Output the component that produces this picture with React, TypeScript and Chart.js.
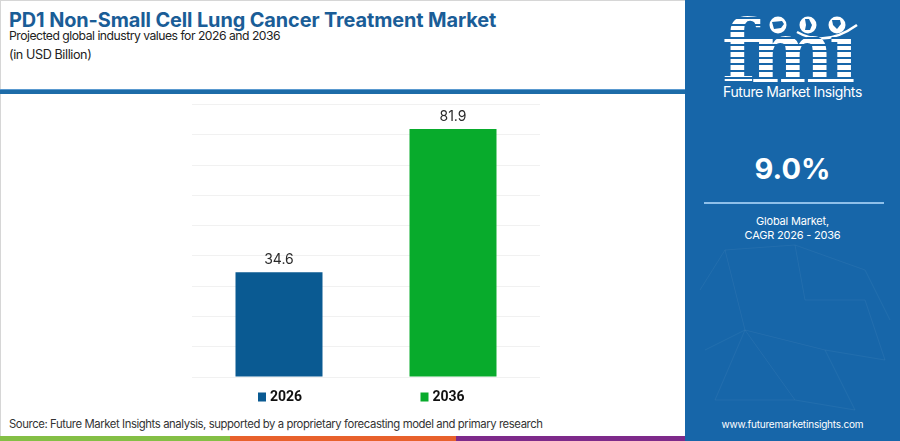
import React, { useEffect, useRef } from "react";
import { Chart, registerables } from "chart.js";

Chart.register(...registerables);

const categories = ["2026", "2036"];
const values2026 = [34.6, null];
const values2036 = [null, 81.9];
const seriesNames = ["2026", "2036"];
const seriesColors = ["#0a5a92", "#08ab2c"];
const yMax = 90;
const yStep = 10;

const FONT = "Inter, 'Open Sans', sans-serif";

const valueLabels = {
  id: "valueLabels",
  afterDatasetsDraw(chart: any) {
    const ctx = chart.ctx;
    ctx.save();
    ctx.font = `400 14px ${FONT}`;
    ctx.fillStyle = "#2a2a2a";
    ctx.textAlign = "center";
    ctx.textBaseline = "middle";
    chart.data.datasets.forEach((ds: any, di: number) => {
      const meta = chart.getDatasetMeta(di);
      meta.data.forEach((el: any, i: number) => {
        const v = ds.data[i];
        if (v == null) return;
        ctx.fillText(String(v), el.x, el.y - 12);
      });
    });
    ctx.restore();
  },
};

const customLegend = {
  id: "customLegend",
  afterDraw(chart: any) {
    const ctx = chart.ctx;
    const a = chart.chartArea;
    const cx = (a.left + a.right) / 2;
    const y = a.bottom + 20;
    const offs = [-108, 54.5];
    ctx.save();
    ctx.font = `700 14px Roboto, ${FONT}`;
    ctx.textBaseline = "middle";
    ctx.textAlign = "left";
    chart.data.datasets.forEach((ds: any, i: number) => {
      const x = cx + offs[i];
      ctx.fillStyle = ds.backgroundColor;
      ctx.fillRect(x, y - 4.5, 8, 9);
      ctx.fillStyle = "#111";
      ctx.fillText(ds.label, x + 12, y);
    });
    ctx.restore();
  },
};

function BarChart() {
  const ref = useRef<HTMLCanvasElement | null>(null);
  useEffect(() => {
    if (!ref.current) return;
    const chart = new Chart(ref.current, {
      type: "bar",
      data: {
        labels: categories,
        datasets: [
          { label: seriesNames[0], data: values2026, backgroundColor: seriesColors[0] },
          { label: seriesNames[1], data: values2036, backgroundColor: seriesColors[1] },
        ],
      },
      options: {
        animation: false,
        responsive: false,
        maintainAspectRatio: false,
        layout: { padding: { top: 9.5, bottom: 33, left: 20, right: 7 } },
        datasets: { bar: { grouped: false, barPercentage: 0.5, categoryPercentage: 1 } } as any,
        plugins: { legend: { display: false }, tooltip: { enabled: false } },
        scales: {
          x: { display: false },
          y: {
            min: 0,
            max: yMax,
            ticks: { display: false, stepSize: yStep },
            grid: { color: "#f1f1f1", lineWidth: 1, drawTicks: false },
            border: { display: false },
          },
        },
      },
      plugins: [valueLabels, customLegend],
    });
    return () => chart.destroy();
  }, []);
  return (
    <canvas
      ref={ref}
      width={375}
      height={315}
      style={{ position: "absolute", left: 172, top: 95, width: 375, height: 315 }}
    />
  );
}

export default function App() {
  useEffect(() => {
    document.body.style.margin = "0";
  }, []);
  const white = "#ffffff";
  return (
    <div style={{ position: "fixed", left: 0, top: 0, width: 900, height: 441, background: "#fff", overflow: "hidden", fontFamily: FONT }}>
      <div style={{ position: "absolute", left: 0, top: 0, width: 684, height: 440, borderLeft: "1px solid #d6d6d6", borderTop: "1px solid #d6d6d6" }} />
      <div style={{ position: "absolute", left: 9, top: 8, fontSize: 19.9, fontWeight: 700, color: "#1a5d97", whiteSpace: "nowrap", letterSpacing: -0.1 }}>
        PD1 Non-Small Cell Lung Cancer Treatment Market
      </div>
      <div style={{ position: "absolute", left: 9, top: 28, fontSize: 12.2, color: "#222", whiteSpace: "nowrap", letterSpacing: -0.5 }}>
        Projected global industry values for 2026 and 2036
      </div>
      <div style={{ position: "absolute", left: 9, top: 47, fontSize: 12.6, color: "#222", whiteSpace: "nowrap", letterSpacing: -0.4 }}>
        (in USD Billion)
      </div>
      <div style={{ position: "absolute", left: 0, top: 89, width: 685, height: 4, background: "#1d6ca8", borderTop: "0.5px solid #5a9ad0" }} />
      <BarChart />
      <div style={{ position: "absolute", left: 9, top: 417, fontSize: 11.3, color: "#333", whiteSpace: "nowrap", letterSpacing: -0.4 }}>
        Source: Future Market Insights analysis, supported by a proprietary forecasting model and primary research
      </div>
      <div style={{ position: "absolute", left: 0, top: 436, width: 230, height: 5, background: "#84bf45" }} />
      <div style={{ position: "absolute", left: 230, top: 436, width: 226, height: 5, background: "#e8612c" }} />
      <div style={{ position: "absolute", left: 456, top: 436, width: 229, height: 5, background: "#7e2a8a" }} />

      <div style={{ position: "absolute", left: 685, top: 0, width: 215, height: 441, background: "#1766a9" }}>
        <svg width={215} height={441} style={{ position: "absolute", left: 0, top: 0 }}>
          <g stroke="#ffffff" strokeOpacity={0.05} strokeWidth={1} fill="none">
            <polyline points="15,290 40,250 110,245 180,270 205,320" />
            <polyline points="40,250 60,330 140,350 170,410 110,400 60,330" />
            <polyline points="110,245 120,300 180,300 200,360 140,350" />
            <polyline points="20,350 60,330 30,400 110,400" />
          </g>
          <g fill="#ffffff">
            <circle cx={93} cy={25} r={8.5} />
            <circle cx={123} cy={25} r={8.5} />
            <circle cx={152} cy={25} r={8.5} />
          </g>
          <g fill="#1766a9">
            <path d="M87,22 l10,-1 l2,3 l-3,4 l-7,1 z" />
            <path d="M120,19 l4,0 l3,6 l-2,5 l-5,0 l1,-5 z" />
            <path d="M147,20 l8,0 l1,4 l-4,5 l-4,-4 z" />
          </g>
          <path d="M112,32 Q140,48 172,25" stroke="#fff" strokeWidth={2.5} fill="none" />
        </svg>
        <div
          style={{
            position: "absolute",
            left: 37,
            top: 6,
            fontFamily: "'DejaVu Serif', serif",
            fontWeight: 700,
            fontSize: 86,
            lineHeight: "92px",
            color: "transparent",
            backgroundImage: "repeating-linear-gradient(180deg, #ffffff 0px, #ffffff 4.6px, #1766a9 4.6px, #1766a9 6.6px)",
            WebkitBackgroundClip: "text",
            backgroundClip: "text",
            letterSpacing: -6,
            transform: "scaleX(0.92)",
            transformOrigin: "left top",
          }}
        >
          fmı
        </div>
        <div style={{ position: "absolute", left: 0, width: 215, top: 83, textAlign: "center", color: white, fontSize: 14, whiteSpace: "nowrap", letterSpacing: -0.4 }}>
          Future Market Insights
        </div>
        <div style={{ position: "absolute", left: 0, width: 215, top: 151, textAlign: "center", color: white, fontSize: 29, fontWeight: 700 }}>
          9.0%
        </div>
        <div style={{ position: "absolute", left: 19, top: 202, width: 180, height: 2, background: "#8fc0ea" }} />
        <div style={{ position: "absolute", left: 0, width: 215, top: 214, textAlign: "center", color: white, fontSize: 11, lineHeight: "14px", letterSpacing: -0.2 }}>
          Global Market,
          <br />
          CAGR 2026 - 2036
        </div>
        <div style={{ position: "absolute", left: 0, width: 215, top: 418, textAlign: "center", color: white, fontSize: 10, letterSpacing: -0.2 }}>
          www.futuremarketinsights.com
        </div>
      </div>
    </div>
  );
}
